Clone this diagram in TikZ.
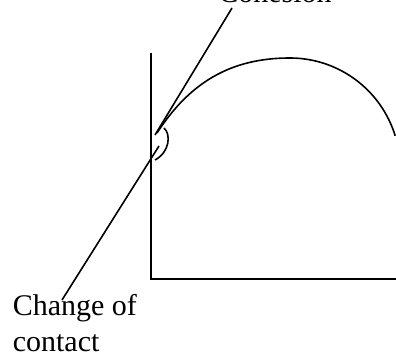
\documentclass[tikz,border=0pt]{standalone}
\usepackage{fontspec}
\setmainfont{Liberation Serif}
\usetikzlibrary{positioning}

\begin{document}
\begin{tikzpicture}[
    x=1pt, y=1pt,
    line width=1.6pt,
    lbl/.style={font=\fontsize{30}{36}\selectfont, inner sep=0pt, align=left},
  ]
  \useasboundingbox (0,0) rectangle (396,356);

  % ===== axes =====
  \coordinate (ytop)   at (151,303);
  \coordinate (origin) at (151,77);
  \coordinate (xend)   at (396,77);
  \draw (ytop) -- (origin) -- (xend);

  % ===== drop profile =====
  \coordinate (foot) at (157,223);
  \coordinate (apex) at (290,298);
  \draw (foot) to[out=57, in=180] (apex) arc[start angle=90, end angle=17, radius=110];

  % ===== labels =====
  \node[lbl, anchor=base] (cohesion) at (275,353) {Cohesion};
  \node[lbl, anchor=base west] (change) at (12,5) {Change of\\contact};

  % leader lines
  \coordinate (touch)   at (155,221);
  \coordinate (cohtip)  at (232,348);
  \coordinate (contact) at (159,210);
  \coordinate (chgtip)  at (62,56);
  \draw (touch) -- (cohtip);
  \draw (contact) -- (chgtip);

  % contact angle mark
  \coordinate (arcA) at (164,228);
  \coordinate (arcB) at (155,196);
  \draw (arcA) .. controls (171,222) and (170,204) .. (arcB);
\end{tikzpicture}
\end{document}
